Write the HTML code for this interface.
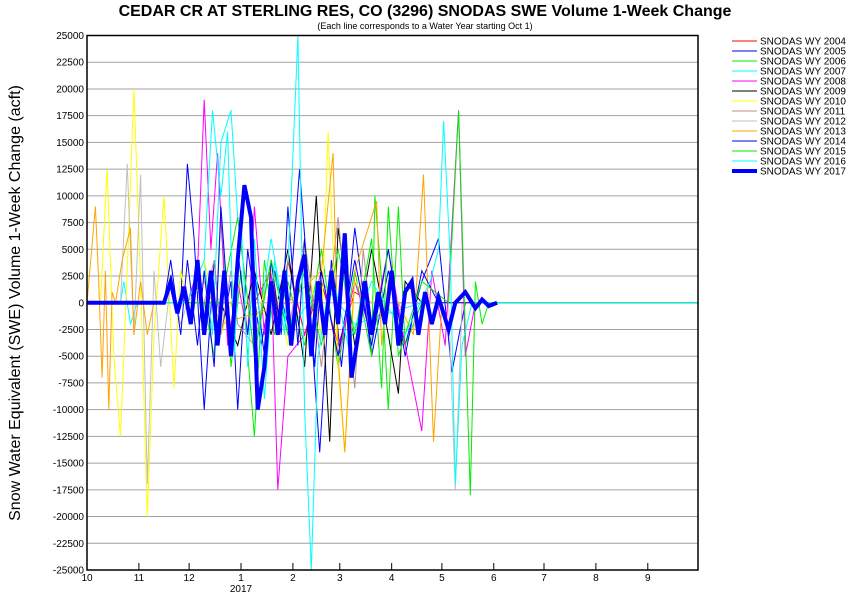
<!DOCTYPE html>
<html><head><meta charset="utf-8"><style>
body{margin:0;background:#fff;width:850px;height:600px;overflow:hidden;font-family:"Liberation Sans",sans-serif}
svg text{font-family:"Liberation Sans",sans-serif}
</style></head><body>
<svg id="chart" width="850" height="600" xmlns="http://www.w3.org/2000/svg">
<text x="425" y="16" text-anchor="middle" font-size="16" font-weight="bold">CEDAR CR AT STERLING RES, CO (3296) SNODAS SWE Volume 1-Week Change</text>
<text x="425" y="29" text-anchor="middle" font-size="9">(Each line corresponds to a Water Year starting Oct 1)</text>
<text transform="translate(20,303) rotate(-90)" text-anchor="middle" font-size="16">Snow Water Equivalent (SWE) Volume 1-Week Change (acft)</text>
<g id="grid"></g><g id="series"></g><g id="axes"></g><g id="legend"></g>
</svg>
<script>
const yTicks=[-25000,-22500,-20000,-17500,-15000,-12500,-10000,-7500,-5000,-2500,0,2500,5000,7500,10000,12500,15000,17500,20000,22500,25000];
const xTickLabels=["10","11","12","1","2","3","4","5","6","7","8","9"];
const xTickDays=[0,31,61,92,123,151,182,212,243,273,304,335];
const seriesNames=["SNODAS WY 2004","SNODAS WY 2005","SNODAS WY 2006","SNODAS WY 2007","SNODAS WY 2008","SNODAS WY 2009","SNODAS WY 2010","SNODAS WY 2011","SNODAS WY 2012","SNODAS WY 2013","SNODAS WY 2014","SNODAS WY 2015","SNODAS WY 2016","SNODAS WY 2017"];
const seriesColors=["#ff0000","#0000ff","#00ee00","#00ffff","#ff00ff","#000000","#ffff00","#bc8f8f","#c0c0c0","#ffa500","#0000ff","#00ee00","#00ffff","#0000ff"];
const d2004=[0,100,110,115,120,130,140,150,160,170,180,365];
const v2004=[0,0,3000,-2000,4000,-3000,2000,-4000,1000,0,0,0];
const d2005=[0,56,60,64,70,76,80,86,90,96,104,112,120,127,132,139,146,152,160,170,180,190,200,210,218,226,365];
const v2005=[0,0,13000,6000,-10000,4000,-3000,2000,-10000,5000,-4000,3000,-2000,12500,2000,-14000,4000,-6000,7000,-5000,3000,-4000,2000,6000,-6500,0,0];
const d2006=[0,70,76,80,86,92,100,106,112,120,130,140,150,160,170,172,176,180,186,190,200,205,365];
const v2006=[0,0,-5000,8000,-6000,3000,-12500,4000,-3000,2000,-4000,5000,-6000,3000,-5000,10000,2000,-10000,9000,-4000,0,0,0];
const d2007=[0,20,22,26,30,60,70,75,80,86,90,100,110,120,140,160,200,365];
const v2007=[0,0,2000,-2000,0,0,4000,-3000,15000,18000,8000,-5000,6000,-3000,2000,-2000,0,0];
const d2008=[0,60,66,70,74,78,84,90,96,100,106,110,114,120,130,140,150,160,170,180,190,200,206,214,222,226,232,365];
const v2008=[0,0,3000,19000,5000,14000,-4000,2000,-3000,9000,-3000,3000,-17500,-5000,-3000,3000,-5000,2000,-3000,5000,-4000,-12000,3000,-4000,18000,-5000,0,0];
const d2009=[0,80,90,100,110,120,130,137,145,150,160,170,180,186,190,200,365];
const v2009=[0,0,-4000,3000,-3000,5000,-6000,10000,-13000,7000,-4000,5000,-3000,-8500,2000,0,0];
const d2010=[0,8,12,16,20,24,28,32,36,40,46,52,56,60,70,80,90,100,110,120,130,140,144,150,154,160,170,365];
const v2010=[0,0,12500,-5000,-12500,3000,20000,2000,-20000,-3000,10000,-8000,3000,0,4000,-3000,2000,-2000,3000,-4000,5000,-3000,16000,-6000,-14000,2000,0,0];
const d2011=[0,70,76,80,86,90,100,110,120,130,140,150,160,165,170,180,365];
const v2011=[0,0,4000,-3000,3000,-2000,-4000,4000,-3000,6000,-6000,8000,-8000,5000,-2000,0,0];
const d2012=[0,20,24,28,32,36,40,44,50,56,60,70,216,220,224,365];
const v2012=[0,0,13000,-3000,12000,-17000,3000,-6000,2000,-2000,0,0,0,-17500,0,0];
const d2013=[0,5,7,9,11,13,15,17,21,26,28,32,36,40,60,70,80,120,140,147,150,154,160,173,176,180,195,201,207,212,365];
const v2013=[0,9000,2000,-7000,3000,-10000,1000,0,4000,7000,-3000,2000,-3000,0,0,2000,-2000,0,3000,14000,-5000,-14000,3000,9500,-4000,2000,-3000,12000,-13000,0,0];
const d2014=[0,46,50,56,60,66,70,76,80,86,90,96,100,106,110,116,120,126,130,136,140,150,160,170,180,190,200,210,365];
const v2014=[0,0,4000,-3000,4000,-4000,3000,-6000,9000,-4000,5000,-3000,3000,-5000,4000,-3000,9000,-4000,6000,-6000,3000,-5000,4000,-4000,5000,-5000,3000,0,0];
const d2015=[0,80,90,100,110,120,130,140,150,160,170,176,180,186,200,216,222,229,232,236,240,365];
const v2015=[0,0,8000,-5000,4000,-3000,3000,-4000,5000,-3000,6000,-8000,9000,-5000,2000,0,18000,-18000,2000,-2000,0,0];
const d2016=[0,60,70,75,80,84,88,92,96,100,106,112,118,122,126,130,134,138,146,156,170,190,205,210,213,217,220,224,230,365];
const v2016=[0,0,4000,18000,10000,16000,-5000,8000,-6000,6000,-9000,4000,-3000,10000,25000,-10000,-25000,-5000,3000,-4000,2000,-3000,2000,5000,17000,4000,-17000,-4000,0,0];
const d2017=[0,46,50,54,58,62,66,70,74,78,82,86,90,94,98,102,106,110,114,118,122,126,130,134,138,142,146,150,154,158,162,166,170,174,178,182,186,190,194,198,202,206,210,216,220,226,232,236,240,245];
const v2017=[0,0,2000,-1000,1500,-2000,4000,-3000,3000,-4000,3000,-5000,4000,11000,8000,-10000,-6000,2000,-3000,3000,-4000,2000,4500,-5000,2000,-3000,3000,-2000,6500,-7000,-3000,2000,-3000,1000,-2000,3000,-4000,1000,2000,-3000,1000,-2000,500,-2500,0,1000,-500,300,-300,0];
const seriesDays=[d2004,d2005,d2006,d2007,d2008,d2009,d2010,d2011,d2012,d2013,d2014,d2015,d2016,d2017];
const seriesVals=[v2004,v2005,v2006,v2007,v2008,v2009,v2010,v2011,v2012,v2013,v2014,v2015,v2016,v2017];

const NS="http://www.w3.org/2000/svg";
const L=87,R=698,T=35.5,B=570,yMin=-25000,yMax=25000,dMax=365;
const xs=d=>L+(d/dMax)*(R-L);
const ys=v=>B-(v-yMin)/(yMax-yMin)*(B-T);
function mk(tag,attrs,parent,text){const e=document.createElementNS(NS,tag);for(const k in attrs)e.setAttribute(k,attrs[k]);if(text!==undefined)e.textContent=text;parent.appendChild(e);return e;}
const grid=document.getElementById('grid'),axes=document.getElementById('axes'),ser=document.getElementById('series'),leg=document.getElementById('legend');
yTicks.forEach(t=>{
  const y=ys(t);
  if(t!==yMin&&t!==yMax){const g=mk('line',{x1:L,x2:R,y1:y,y2:y,stroke:'#a0a0a0','stroke-width':1},grid);
  
  }
  const tx=mk('text',{x:L-3,y:y+3.5,'text-anchor':'end','font-size':10},axes,String(t));
  
  
});
xTickLabels.forEach((lab,i)=>{
  const x=xs(xTickDays[i]);
  const tk=mk('line',{x1:x,x2:x,y1:B,y2:B-7,stroke:'#000'},axes);
  
  
  const tx=mk('text',{x:x,y:B+11,'text-anchor':'middle','font-size':10},axes,lab);
  
  
});
const yr=mk('text',{x:xs(92),y:B+22,'text-anchor':'middle','font-size':10},axes,'2017');


const frame=mk('rect',{x:L,y:T,width:R-L,height:B-T,fill:'none',stroke:'#000','stroke-width':1.5},axes);


seriesNames.forEach((nm,i)=>{
  const d=seriesDays[i],v=seriesVals[i],n=Math.min(d.length,v.length);
  let pts=[];for(let k=0;k<n;k++)pts.push(xs(d[k]).toFixed(1)+','+ys(v[k]).toFixed(1));
  const pl=mk('polyline',{points:pts.join(' '),fill:'none',stroke:seriesColors[i],'stroke-width':i===13?4:1,'stroke-linejoin':'miter'},ser);
  
  
  const y=41+i*10;
  const ll=mk('line',{x1:732,x2:757,y1:y,y2:y,stroke:seriesColors[i],'stroke-width':i===13?4:1},leg);
  
  
  const lt=mk('text',{x:760,y:y+3.5,'font-size':10},leg,nm);
  
  
});
</script>
</body></html>
